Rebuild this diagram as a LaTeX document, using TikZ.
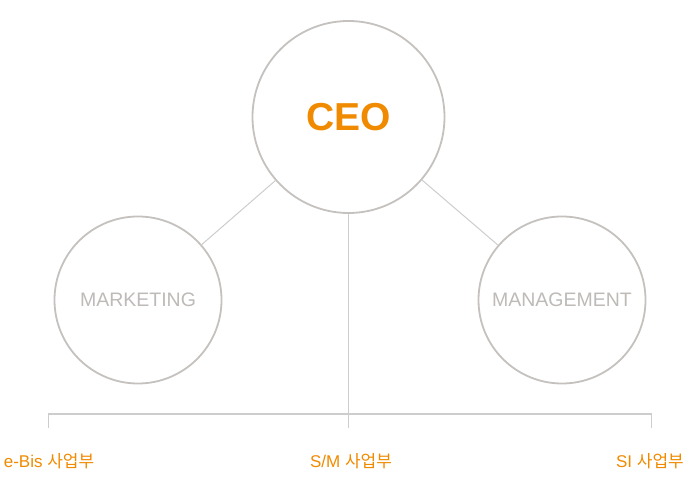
\documentclass[tikz,border=0pt]{standalone}
\usepackage{fontspec}
\setmainfont{Liberation Sans}
\newfontfamily\krfont{Noto Sans CJK KR}
\usepackage{xcolor}
\usepackage{tikz}

\definecolor{ceoorange}{HTML}{F08A00}
\definecolor{ringgray}{HTML}{C4C1BE}
\definecolor{linkgray}{HTML}{CDCDCD}
\definecolor{labelgray}{HTML}{BDBAB7}

\begin{document}
\begin{tikzpicture}[x=1pt,y=1pt,line width=1pt]
        \tikzstyle{ring}=[circle,draw=ringgray,line width=1.8pt,inner sep=0pt]
        \tikzstyle{dept}=[text=labelgray,font=\fontsize{19.5}{19.5}\selectfont]
        \tikzstyle{unit}=[text=ceoorange,font=\fontsize{17}{17}\selectfont]
        \tikzstyle{link}=[draw=linkgray]

        \useasboundingbox (0,0) rectangle (690,479);

        \node[ring,minimum size=192pt,text=ceoorange,
              font=\bfseries\fontsize{39}{39}\selectfont] (CEO) at (348.5,362) {CEO};
        \node[ring,dept,minimum size=167pt] (MK) at (138,179) {MARKETING};
        \node[ring,dept,minimum size=167pt] (MG) at (562,179) {MANAGEMENT};

        \coordinate (BL) at (48,65);
        \coordinate (BM) at (348.5,65);
        \coordinate (BR) at (651,65);
        \coordinate (TL) at (48,51);
        \coordinate (TM) at (348.5,51);
        \coordinate (TR) at (651,51);

        \node[unit] (EB) at (49,18) {e-Bis {\krfont 사업부}};
        \node[unit] (SM) at (351,18) {S/M {\krfont 사업부}};
        \node[unit] (SI) at (650,18) {SI {\krfont 사업부}};

        \path[link] (CEO) edge (MK);
        \path[link] (CEO) edge (MG);
        \draw[link] (CEO) -- (TM);
        \draw[link] (TL) -- (BL) -- (BR) -- (TR);
    \end{tikzpicture}
\end{document}
